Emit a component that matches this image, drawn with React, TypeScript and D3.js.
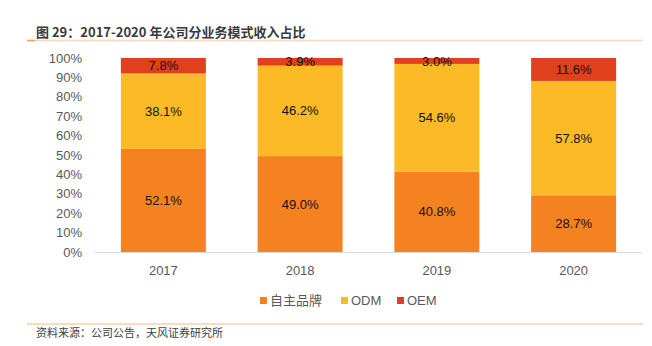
import React from "react";
import * as d3 from "d3";

const categories = ["2017", "2018", "2019", "2020"];
const seriesNames = ["自主品牌", "ODM", "OEM"];
const ownBrand = [52.1, 49.0, 40.8, 28.7];
const odm = [38.1, 46.2, 54.6, 57.8];
const oem = [7.8, 3.9, 3.0, 11.6];
const yTicks = [0, 10, 20, 30, 40, 50, 60, 70, 80, 90, 100];
const colors = ["#F58220", "#FBBA26", "#E0401B"];

const W = 652, H = 346;
const FONT = "'Liberation Sans', Arial, 'Noto Sans CJK SC', sans-serif";
const CJK = "'Noto Sans CJK SC', 'Liberation Sans', sans-serif";

export default function App() {
  const x = d3.scaleBand().domain(categories).range([95, 642]).paddingInner(0).paddingOuter(0);
  const y = d3.scaleLinear().domain([0, 100]).range([252, 58]);
  const barW = 85;
  const seriesVals = [ownBrand, odm, oem];

  const rows = categories.map((c, i) => {
    const total = seriesVals.reduce((s, a) => s + a[i], 0);
    const obj: any = { cat: c };
    seriesNames.forEach((n, k) => (obj[n] = (seriesVals[k][i] / total) * 100));
    return obj;
  });
  const stack = d3.stack<any>().keys(seriesNames)(rows);

  return (
    <svg width={W} height={H} style={{ position: "absolute", left: 0, top: 0, background: "#fff" }}>
      <rect width={W} height={H} fill="#fff" />
      <text x={36} y={37} fontFamily={CJK} fontSize={13} fontWeight="bold" fill="#3a3a3a">
        图 29：2017-2020 年公司分业务模式收入占比
      </text>
      <line x1={27} x2={643} y1={40.5} y2={40.5} stroke="#FAD9BC" strokeWidth={1.5} />
      <line x1={27} x2={35} y1={40.5} y2={40.5} stroke="#F2A060" strokeWidth={1.5} />

      {yTicks.map((t) => (
        <text key={t} x={82} y={y(t)} dy="0.35em" textAnchor="end" fontFamily={FONT} fontSize={13} fill="#595959">
          {t}%
        </text>
      ))}

      {stack.map((s, k) =>
        s.map((d, i) => (
          <rect
            key={`${k}-${i}`}
            x={(x(categories[i]) as number) + (x.bandwidth() - barW) / 2}
            width={barW}
            y={y(d[1])}
            height={y(d[0]) - y(d[1])}
            fill={colors[k]}
          />
        ))
      )}
      {stack.map((s, k) =>
        s.map((d, i) => (
          <text
            key={`l${k}-${i}`}
            x={(x(categories[i]) as number) + x.bandwidth() / 2}
            y={(y(d[0]) + y(d[1])) / 2}
            dy="0.35em"
            textAnchor="middle"
            fontFamily={FONT}
            fontSize={13}
            fill="#111"
          >
            {seriesVals[k][i].toFixed(1)}%
          </text>
        ))
      )}

      <line x1={95} x2={642} y1={252.5} y2={252.5} stroke="#D9D9D9" strokeWidth={1} />
      {categories.map((c) => (
        <text key={c} x={(x(c) as number) + x.bandwidth() / 2} y={270} dy="0.35em" textAnchor="middle" fontFamily={FONT} fontSize={13} fill="#595959">
          {c}
        </text>
      ))}

      {[
        { name: seriesNames[0], sx: 260, tx: 270 },
        { name: seriesNames[1], sx: 341, tx: 351 },
        { name: seriesNames[2], sx: 397, tx: 407 },
      ].map((l, k) => (
        <g key={l.name}>
          <rect x={l.sx} y={297} width={7} height={7} fill={colors[k]} />
          <text x={l.tx} y={300.5} dy="0.35em" fontFamily={k === 0 ? CJK : FONT} fontSize={13} fill="#595959">
            {l.name}
          </text>
        </g>
      ))}

      <line x1={27} x2={643} y1={324} y2={324} stroke="#F9CFA8" strokeWidth={1.5} />
      <text x={36} y={337} fontFamily={CJK} fontSize={11} fill="#404040">
        资料来源：公司公告，天风证券研究所
      </text>
    </svg>
  );
}
